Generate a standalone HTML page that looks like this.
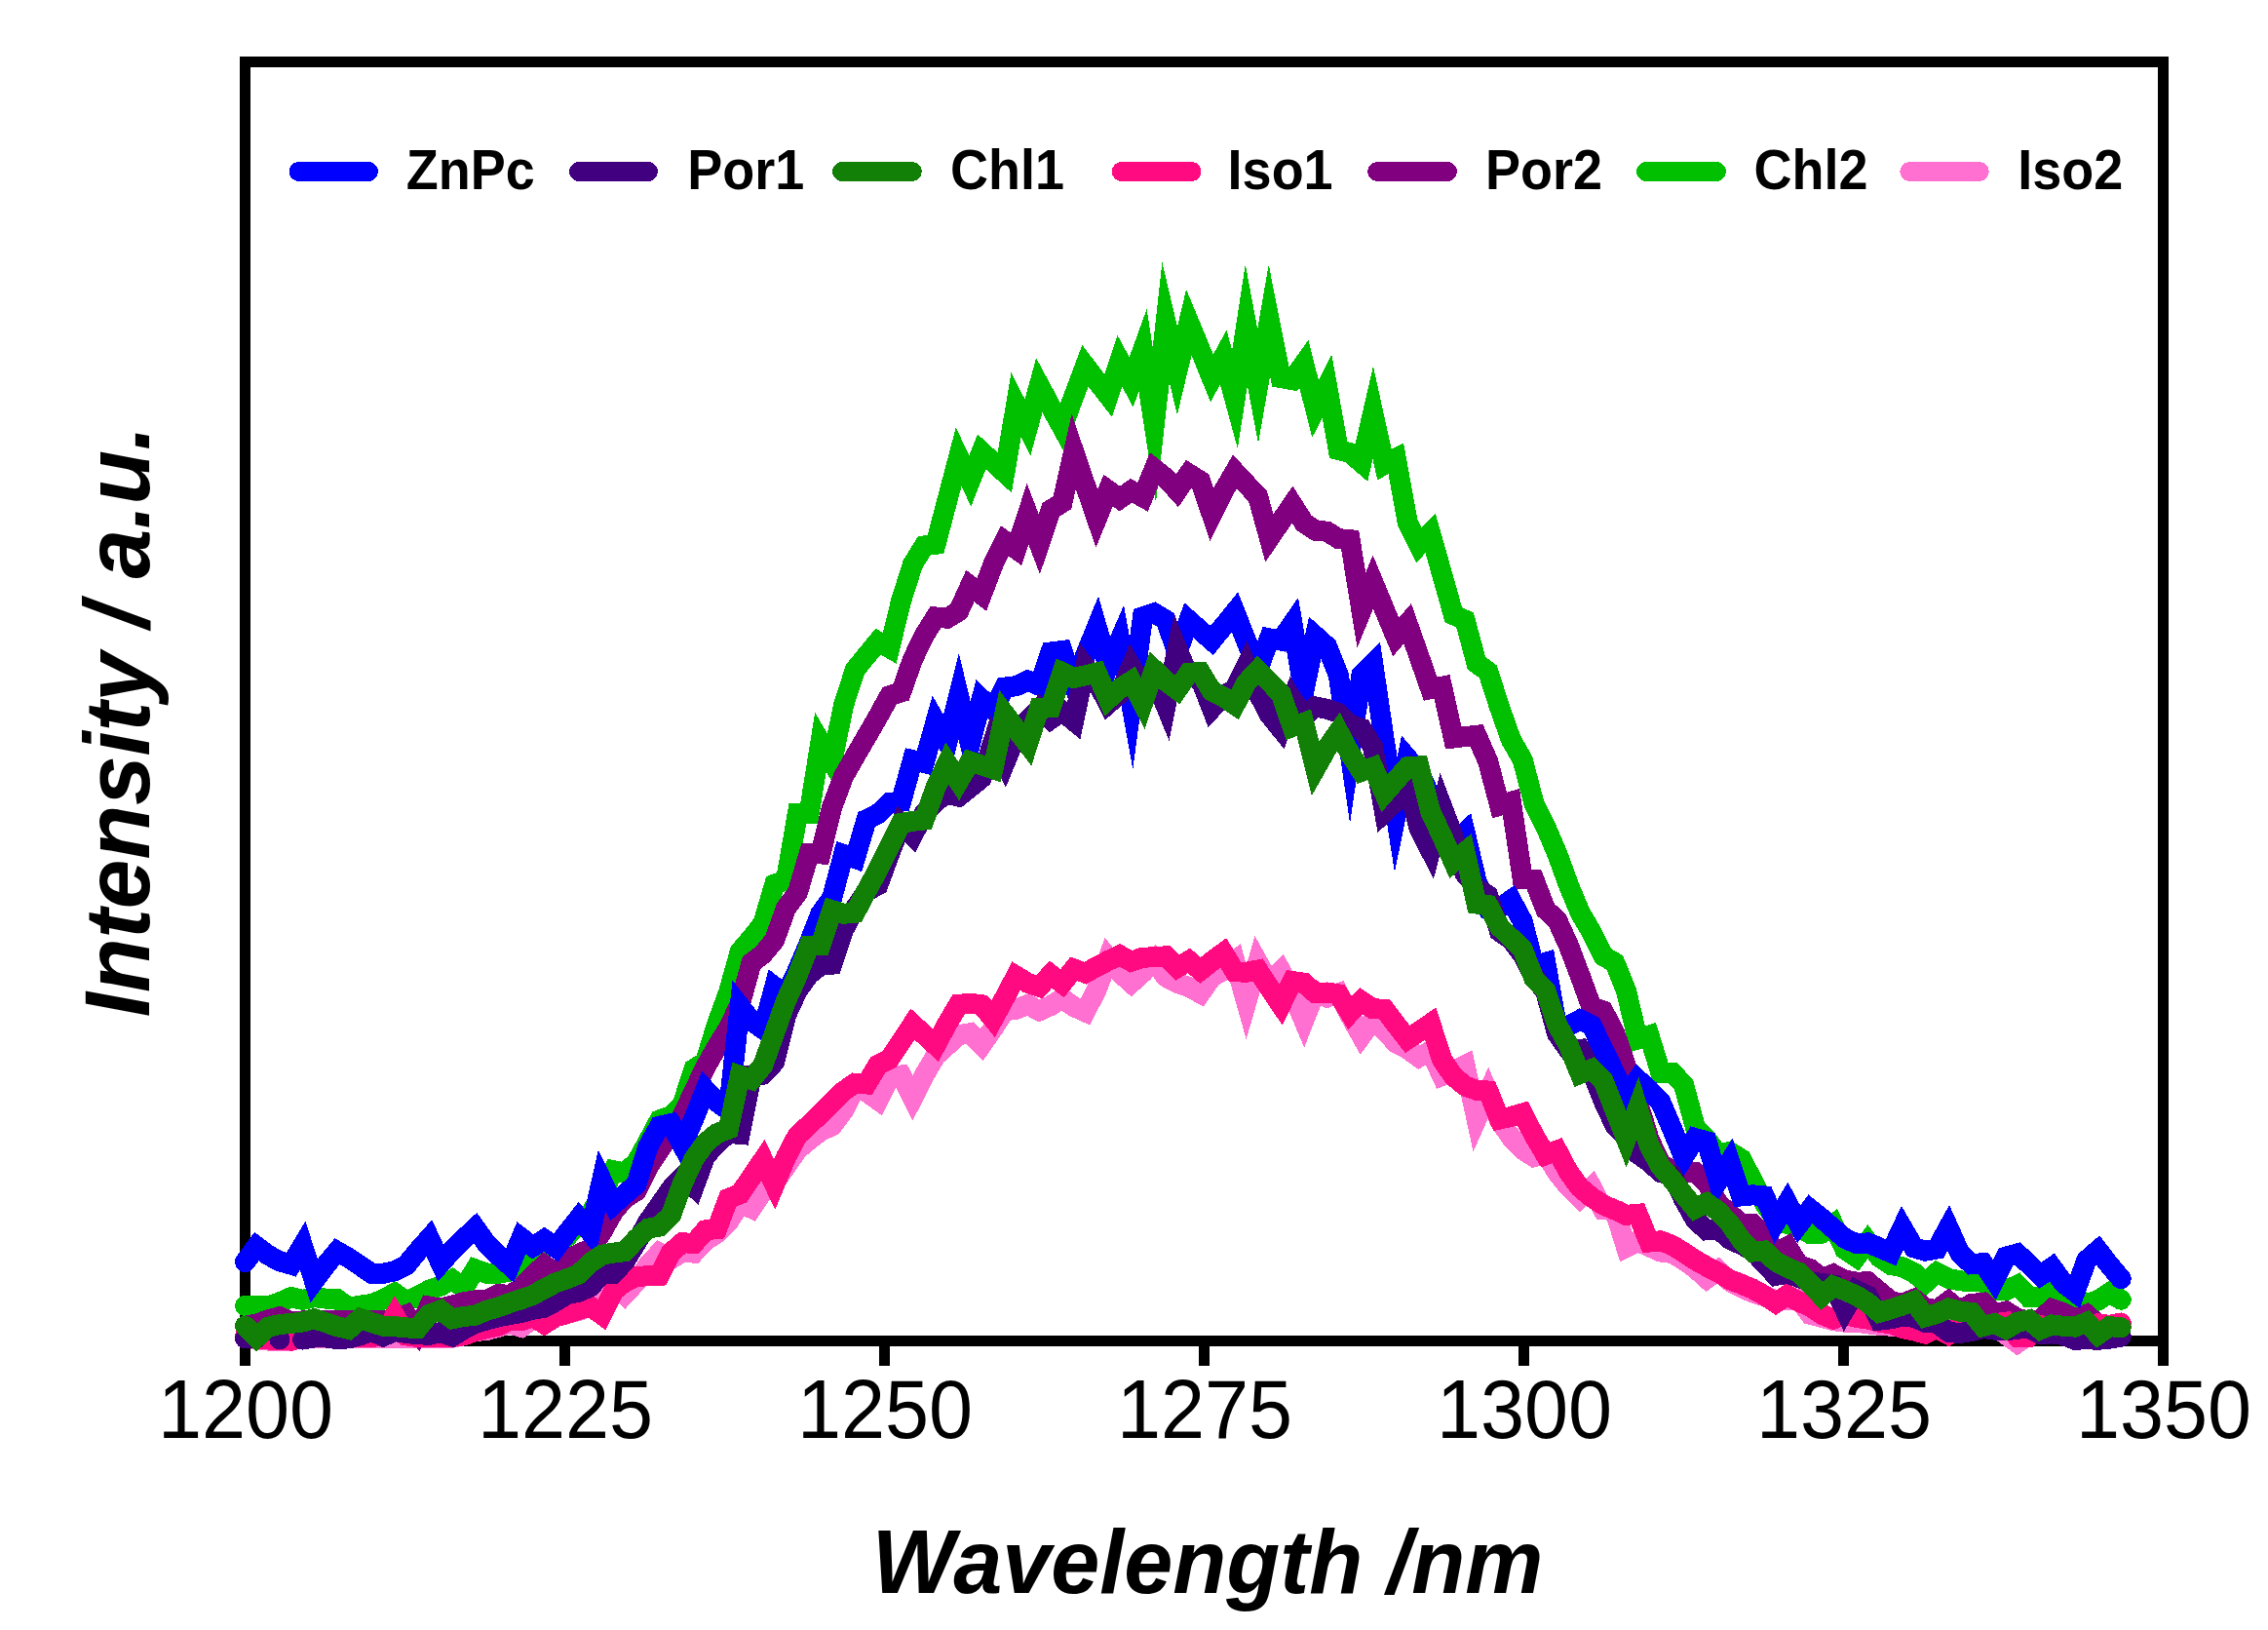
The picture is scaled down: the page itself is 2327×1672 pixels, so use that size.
<!DOCTYPE html>
<html lang="en"><head><meta charset="utf-8"><title>Emission spectra</title>
<style>html,body{margin:0;padding:0;background:#fff}svg{display:block}text{font-family:"Liberation Sans",sans-serif;fill:#000}.tick{font-size:81px}.leg{font-size:54px;font-weight:bold}.ax{font-size:91px;font-weight:bold;font-style:italic}.c{fill:none;stroke-width:21;stroke-linejoin:miter;stroke-miterlimit:10;stroke-linecap:round}</style></head><body>
<svg width="2327" height="1672" viewBox="0 0 2327 1672">
<rect width="2327" height="1672" fill="#fff"/>
<g shape-rendering="crispEdges">
<rect x="251.5" y="63" width="1968" height="1312" fill="none" stroke="#000" stroke-width="11"/>
<rect x="246.25" y="1375" width="10.5" height="26" fill="#000"/>
<rect x="574.25" y="1375" width="10.5" height="26" fill="#000"/>
<rect x="902.25" y="1375" width="10.5" height="26" fill="#000"/>
<rect x="1230.25" y="1375" width="10.5" height="26" fill="#000"/>
<rect x="1558.25" y="1375" width="10.5" height="26" fill="#000"/>
<rect x="1886.25" y="1375" width="10.5" height="26" fill="#000"/>
<rect x="2214.25" y="1375" width="10.5" height="26" fill="#000"/>
</g>
<g class="c" shape-rendering="crispEdges">
<path d="M251.5,1371.9L263.3,1374.0L275.1,1375.1L286.9,1375.1L298.7,1375.1L310.5,1372.3L322.3,1372.3L334.2,1372.3L346.0,1372.3L357.8,1372.3L369.6,1372.3L381.4,1372.3L393.2,1372.3L405.0,1372.3L416.8,1372.3L428.6,1372.3L440.4,1372.3L452.2,1372.3L464.0,1372.3L475.9,1369.8L487.7,1365.5L499.5,1364.5L511.3,1361.3L523.1,1358.1L534.9,1361.3L546.7,1352.8L558.5,1357.1L570.3,1350.7L582.1,1347.5L593.9,1344.4L605.7,1340.1L617.5,1331.7L629.4,1314.8L641.2,1327.5L653.0,1314.8L664.8,1297.8L676.6,1285.1L688.4,1291.5L700.2,1284.1L712.0,1285.1L723.8,1272.4L735.6,1265.2L747.4,1253.4L759.2,1234.3L771.1,1239.6L782.9,1221.6L794.7,1213.2L806.5,1196.2L818.3,1179.3L830.1,1169.4L841.9,1160.3L853.7,1155.0L865.5,1139.1L877.3,1115.8L889.1,1120.1L900.9,1128.5L912.7,1105.2L924.6,1103.1L936.4,1126.4L948.2,1103.1L960.0,1083.0L971.8,1072.4L983.6,1061.9L995.4,1059.7L1007.2,1071.8L1019.0,1054.9L1030.8,1036.9L1042.6,1035.2L1054.4,1030.5L1066.3,1036.9L1078.1,1031.6L1089.9,1024.2L1101.7,1032.6L1113.5,1037.9L1125.3,1014.7L1137.1,982.9L1148.9,997.7L1160.7,1008.3L1172.5,997.7L1184.3,985.4L1196.1,1002.0L1207.9,1008.3L1219.8,1012.5L1231.6,1018.9L1243.4,1002.0L1255.2,995.6L1267.0,986.1L1278.8,1028.0L1290.6,987.1L1302.4,1008.3L1314.2,996.2L1326.0,1018.9L1337.8,1046.8L1349.6,1016.8L1361.5,1023.1L1373.3,1018.9L1385.1,1041.5L1396.9,1062.5L1408.7,1046.4L1420.5,1057.0L1432.3,1069.7L1444.1,1076.0L1455.9,1084.5L1467.7,1078.1L1479.5,1103.5L1491.3,1098.9L1503.1,1092.9L1515.0,1147.8L1526.8,1121.1L1538.6,1149.7L1550.4,1166.6L1562.2,1179.3L1574.0,1186.7L1585.8,1183.5L1597.6,1202.6L1609.4,1217.4L1621.2,1229.0L1633.0,1217.8L1644.8,1240.7L1656.7,1241.7L1668.5,1279.4L1680.3,1273.5L1692.1,1278.8L1703.9,1284.0L1715.7,1285.5L1727.5,1292.5L1739.3,1301.0L1751.1,1311.6L1762.9,1303.1L1774.7,1314.3L1786.5,1320.7L1798.3,1326.0L1810.2,1329.6L1822.0,1333.8L1833.8,1333.8L1845.6,1332.7L1857.4,1348.3L1869.2,1351.4L1881.0,1354.6L1892.8,1356.2L1904.6,1356.2L1916.4,1357.8L1928.2,1359.4L1940.0,1360.2L1951.9,1360.2L1963.7,1360.2L1975.5,1360.2L1987.3,1360.2L1999.1,1360.2L2010.9,1360.2L2022.7,1360.2L2034.5,1360.2L2046.3,1360.2L2058.1,1368.9L2069.9,1377.6L2081.7,1368.9L2093.5,1360.2L2105.4,1360.2L2117.2,1360.2L2129.0,1360.2L2140.8,1360.2L2152.6,1360.2L2164.4,1360.2L2176.2,1360.2" stroke="#FF70D0"/>
<path d="M251.5,1339.5L263.3,1339.1L275.1,1340.1L286.9,1335.9L298.7,1330.6L310.5,1333.4L322.3,1330.6L334.2,1332.1L346.0,1332.7L357.8,1341.2L369.6,1339.1L381.4,1337.6L393.2,1332.7L405.0,1326.4L416.8,1334.8L428.6,1329.6L440.4,1323.2L452.2,1319.0L464.0,1312.6L475.9,1321.1L487.7,1302.0L499.5,1306.3L511.3,1306.3L523.1,1304.2L534.9,1293.6L546.7,1285.1L558.5,1278.8L570.3,1276.6L582.1,1268.2L593.9,1255.5L605.7,1244.9L617.5,1225.8L629.4,1200.7L641.2,1202.9L653.0,1192.3L664.8,1171.1L676.6,1148.9L688.4,1144.7L700.2,1133.0L712.0,1096.5L723.8,1089.1L735.6,1050.5L747.4,1018.3L759.2,976.2L771.1,962.2L782.9,947.3L794.7,907.1L806.5,902.9L818.3,834.8L830.1,834.8L841.9,761.3L853.7,781.4L865.5,723.5L877.3,687.0L889.1,672.5L900.9,658.1L912.7,664.8L924.6,616.3L936.4,579.0L948.2,559.9L960.0,558.3L971.8,513.5L983.6,468.7L995.4,493.3L1007.2,463.4L1019.0,474.2L1030.8,484.9L1042.6,415.1L1054.4,438.4L1066.3,395.2L1078.1,417.2L1089.9,438.6L1101.7,406.6L1113.5,375.3L1125.3,390.7L1137.1,405.8L1148.9,370.2L1160.7,392.0L1172.5,359.2L1184.3,436.2L1196.1,330.4L1207.9,380.4L1219.8,330.6L1231.6,359.0L1243.4,388.0L1255.2,366.4L1267.0,409.8L1278.8,333.4L1290.6,396.0L1302.4,328.5L1314.2,387.6L1326.0,389.7L1337.8,373.2L1349.6,419.3L1361.5,396.0L1373.3,461.6L1385.1,464.6L1396.9,474.7L1408.7,423.3L1420.5,476.6L1432.3,470.3L1444.1,535.4L1455.9,559.2L1467.7,547.1L1479.5,588.8L1491.3,630.7L1503.1,636.0L1515.0,680.4L1526.8,688.9L1538.6,725.7L1550.4,758.9L1562.2,779.4L1574.0,824.4L1585.8,847.8L1597.6,875.4L1609.4,907.9L1621.2,936.2L1633.0,956.2L1644.8,980.5L1656.7,987.3L1668.5,1016.3L1680.3,1065.9L1692.1,1062.2L1703.9,1100.6L1715.7,1100.3L1727.5,1112.6L1739.3,1156.0L1751.1,1168.7L1762.9,1184.6L1774.7,1181.4L1786.5,1188.8L1798.3,1211.0L1810.2,1234.3L1822.0,1251.2L1833.8,1255.5L1845.6,1258.7L1857.4,1265.7L1869.2,1265.1L1881.0,1256.2L1892.8,1281.6L1904.6,1289.5L1916.4,1273.7L1928.2,1289.5L1940.0,1297.5L1951.9,1299.8L1963.7,1305.4L1975.5,1315.9L1987.3,1305.4L1999.1,1311.4L2010.9,1313.7L2022.7,1314.9L2034.5,1314.9L2046.3,1323.7L2058.1,1323.7L2069.9,1318.1L2081.7,1330.8L2093.5,1330.8L2105.4,1322.1L2117.2,1326.8L2129.0,1331.6L2140.8,1337.1L2152.6,1334.0L2164.4,1326.0L2176.2,1333.2" stroke="#00C000"/>
<path d="M251.5,1360.2L263.3,1358.1L275.1,1353.9L286.9,1350.7L298.7,1356.0L310.5,1354.9L322.3,1354.9L334.2,1354.9L346.0,1354.9L357.8,1354.9L369.6,1354.9L381.4,1354.9L393.2,1354.9L405.0,1352.8L416.8,1348.6L428.6,1365.5L440.4,1340.1L452.2,1342.2L464.0,1339.1L475.9,1335.9L487.7,1333.8L499.5,1333.8L511.3,1327.4L523.1,1328.5L534.9,1321.1L546.7,1308.4L558.5,1297.8L570.3,1306.3L582.1,1292.5L593.9,1286.2L605.7,1280.9L617.5,1263.9L629.4,1242.8L641.2,1229.0L653.0,1221.6L664.8,1197.6L676.6,1179.6L688.4,1162.1L700.2,1144.7L712.0,1119.3L723.8,1094.9L735.6,1073.8L747.4,1054.7L759.2,1030.2L771.1,987.6L782.9,978.6L794.7,964.3L806.5,931.4L818.3,915.9L830.1,875.9L841.9,876.0L853.7,827.8L865.5,796.5L877.3,775.9L889.1,755.6L900.9,735.1L912.7,713.7L924.6,710.0L936.4,676.5L948.2,651.9L960.0,633.0L971.8,634.3L983.6,627.0L995.4,601.0L1007.2,610.0L1019.0,579.0L1030.8,554.8L1042.6,563.2L1054.4,527.2L1066.3,558.1L1078.1,523.0L1089.9,515.6L1101.7,463.1L1113.5,497.6L1125.3,531.9L1137.1,503.1L1148.9,511.6L1160.7,503.3L1172.5,509.9L1184.3,480.9L1196.1,490.2L1207.9,503.3L1219.8,486.0L1231.6,493.4L1243.4,527.9L1255.2,504.0L1267.0,483.9L1278.8,496.6L1290.6,509.3L1302.4,552.0L1314.2,534.7L1326.0,517.5L1337.8,536.1L1349.6,544.2L1361.5,545.2L1373.3,552.6L1385.1,553.7L1396.9,626.0L1408.7,597.0L1420.5,625.4L1432.3,653.5L1444.1,639.6L1455.9,673.0L1467.7,706.7L1479.5,704.3L1491.3,757.0L1503.1,755.6L1515.0,754.3L1526.8,781.3L1538.6,826.2L1550.4,822.5L1562.2,901.6L1574.0,902.4L1585.8,933.0L1597.6,943.7L1609.4,969.8L1621.2,1000.8L1633.0,1033.3L1644.8,1036.8L1656.7,1059.5L1668.5,1093.7L1680.3,1130.6L1692.1,1168.7L1703.9,1193.7L1715.7,1200.4L1727.5,1202.6L1739.3,1202.6L1751.1,1213.1L1762.9,1234.3L1774.7,1244.9L1786.5,1255.5L1798.3,1255.5L1810.2,1268.2L1822.0,1285.1L1833.8,1278.8L1845.6,1297.8L1857.4,1301.6L1869.2,1311.7L1881.0,1307.0L1892.8,1313.0L1904.6,1315.1L1916.4,1314.9L1928.2,1324.8L1940.0,1334.8L1951.9,1337.1L1963.7,1332.4L1975.5,1341.9L1987.3,1343.5L1999.1,1334.8L2010.9,1344.3L2022.7,1337.6L2034.5,1336.2L2046.3,1347.5L2058.1,1345.1L2069.9,1352.2L2081.7,1355.4L2093.5,1353.8L2105.4,1342.7L2117.2,1346.7L2129.0,1353.0L2140.8,1348.3L2152.6,1358.6L2164.4,1361.0L2176.2,1361.0" stroke="#800080"/>
<path d="M251.5,1370.8L263.3,1372.9L275.1,1374.0L286.9,1374.0L298.7,1375.1L310.5,1371.5L322.3,1371.5L334.2,1371.5L346.0,1371.5L357.8,1371.5L369.6,1371.5L381.4,1371.5L393.2,1369.8L405.0,1349.7L416.8,1369.8L428.6,1371.5L440.4,1371.5L452.2,1371.5L464.0,1371.5L475.9,1369.8L487.7,1365.5L499.5,1362.4L511.3,1360.2L523.1,1353.9L534.9,1354.9L546.7,1350.7L558.5,1358.1L570.3,1350.7L582.1,1347.5L593.9,1343.3L605.7,1340.1L617.5,1348.6L629.4,1324.3L641.2,1314.8L653.0,1309.7L664.8,1308.6L676.6,1308.2L688.4,1284.9L700.2,1274.6L712.0,1275.6L723.8,1261.9L735.6,1260.6L747.4,1229.3L759.2,1224.8L771.1,1207.2L782.9,1189.9L794.7,1215.1L806.5,1186.9L818.3,1164.7L830.1,1153.9L841.9,1142.5L853.7,1130.8L865.5,1119.2L877.3,1111.2L889.1,1112.0L900.9,1092.1L912.7,1086.2L924.6,1068.4L936.4,1050.6L948.2,1061.4L960.0,1072.2L971.8,1050.2L983.6,1030.3L995.4,1029.3L1007.2,1030.7L1019.0,1045.3L1030.8,1023.5L1042.6,1001.1L1054.4,1008.3L1066.3,1012.1L1078.1,999.6L1089.9,1008.7L1101.7,993.9L1113.5,998.1L1125.3,991.6L1137.1,985.4L1148.9,979.9L1160.7,986.3L1172.5,982.1L1184.3,981.9L1196.1,980.8L1207.9,992.6L1219.8,985.4L1231.6,995.4L1243.4,986.1L1255.2,977.4L1267.0,996.7L1278.8,997.3L1290.6,995.0L1302.4,1013.2L1314.2,1030.7L1326.0,1006.6L1337.8,1008.3L1349.6,1018.7L1361.5,1018.0L1373.3,1019.9L1385.1,1039.0L1396.9,1026.9L1408.7,1034.8L1420.5,1035.2L1432.3,1050.8L1444.1,1065.9L1455.9,1058.0L1467.7,1050.0L1479.5,1086.7L1491.3,1104.2L1503.1,1113.9L1515.0,1118.3L1526.8,1119.0L1538.6,1148.0L1550.4,1145.4L1562.2,1142.0L1574.0,1164.7L1585.8,1184.6L1597.6,1180.1L1609.4,1202.4L1621.2,1218.4L1633.0,1228.2L1644.8,1235.8L1656.7,1240.9L1668.5,1246.4L1680.3,1245.3L1692.1,1274.1L1703.9,1272.8L1715.7,1277.3L1727.5,1284.7L1739.3,1292.5L1751.1,1299.1L1762.9,1305.0L1774.7,1312.6L1786.5,1317.1L1798.3,1322.1L1810.2,1328.7L1822.0,1336.5L1833.8,1328.5L1845.6,1335.3L1857.4,1340.3L1869.2,1348.3L1881.0,1353.0L1892.8,1348.3L1904.6,1351.4L1916.4,1353.0L1928.2,1356.2L1940.0,1357.8L1951.9,1362.5L1963.7,1364.9L1975.5,1368.1L1987.3,1362.5L1999.1,1368.9L2010.9,1360.2L2022.7,1362.5L2034.5,1362.5L2046.3,1357.8L2058.1,1356.2L2069.9,1371.3L2081.7,1371.3L2093.5,1359.4L2105.4,1362.5L2117.2,1362.5L2129.0,1362.5L2140.8,1362.5L2152.6,1357.8L2164.4,1359.4L2176.2,1357.0" stroke="#FF0A80"/>
<path d="M251.5,1294.6L263.3,1278.5L275.1,1287.4L286.9,1293.8L298.7,1297.2L310.5,1277.7L322.3,1313.7L334.2,1297.8L346.0,1283.6L357.8,1290.4L369.6,1298.2L381.4,1306.3L393.2,1306.3L405.0,1303.7L416.8,1297.8L428.6,1283.4L440.4,1270.1L452.2,1295.7L464.0,1282.6L475.9,1270.7L487.7,1259.7L499.5,1276.2L511.3,1287.6L523.1,1298.2L534.9,1269.9L546.7,1278.8L558.5,1271.3L570.3,1279.8L582.1,1264.4L593.9,1249.6L605.7,1263.9L617.5,1211.0L629.4,1235.4L641.2,1224.8L653.0,1214.9L664.8,1176.4L676.6,1155.2L688.4,1152.6L700.2,1174.8L712.0,1147.1L723.8,1117.7L735.6,1130.4L747.4,1138.8L759.2,1032.2L771.1,1047.3L782.9,1055.6L794.7,1012.1L806.5,1021.1L818.3,995.2L830.1,967.5L841.9,937.3L853.7,921.0L865.5,876.5L877.3,880.6L889.1,840.5L900.9,834.9L912.7,823.5L924.6,822.2L936.4,779.7L948.2,782.5L960.0,740.5L971.8,761.3L983.6,714.0L995.4,763.2L1007.2,717.0L1019.0,728.1L1030.8,705.1L1042.6,703.7L1054.4,698.1L1066.3,703.2L1078.1,668.9L1089.9,667.5L1101.7,701.6L1113.5,672.5L1125.3,643.5L1137.1,684.1L1148.9,656.8L1160.7,721.7L1172.5,632.7L1184.3,628.9L1196.1,636.0L1207.9,669.4L1219.8,636.3L1231.6,646.7L1243.4,657.0L1255.2,642.4L1267.0,627.9L1278.8,657.6L1290.6,687.5L1302.4,654.9L1314.2,657.1L1326.0,640.0L1337.8,709.0L1349.6,652.4L1361.5,663.0L1373.3,692.4L1385.1,772.5L1396.9,692.7L1408.7,680.8L1420.5,760.6L1432.3,835.7L1444.1,777.8L1455.9,791.6L1467.7,817.0L1479.5,840.8L1491.3,864.6L1503.1,853.8L1515.0,904.0L1526.8,931.3L1538.6,931.3L1550.4,923.2L1562.2,945.2L1574.0,990.8L1585.8,987.3L1597.6,1054.0L1609.4,1052.4L1621.2,1046.0L1633.0,1051.6L1644.8,1076.2L1656.7,1100.5L1668.5,1124.6L1680.3,1107.3L1692.1,1117.9L1703.9,1130.6L1715.7,1158.1L1727.5,1186.7L1739.3,1167.6L1751.1,1170.8L1762.9,1211.0L1774.7,1192.0L1786.5,1226.9L1798.3,1225.8L1810.2,1226.9L1822.0,1253.4L1833.8,1233.9L1845.6,1255.9L1857.4,1240.3L1869.2,1249.8L1881.0,1260.2L1892.8,1270.2L1904.6,1275.6L1916.4,1274.9L1928.2,1279.7L1940.0,1284.8L1951.9,1259.5L1963.7,1279.8L1975.5,1283.2L1987.3,1281.0L1999.1,1259.5L2010.9,1285.6L2022.7,1296.7L2034.5,1295.6L2046.3,1313.0L2058.1,1289.2L2069.9,1286.0L2081.7,1296.7L2093.5,1308.3L2105.4,1300.0L2117.2,1316.2L2129.0,1325.2L2140.8,1292.7L2152.6,1282.5L2164.4,1297.8L2176.2,1311.7" stroke="#0000FF"/>
<path d="M251.5,1372.9L263.3,1372.9M286.9,1374.0l0.01,0M310.5,1374.0L322.3,1371.9L334.2,1371.9L346.0,1373.6L357.8,1372.9L369.6,1369.8L381.4,1365.5L393.2,1370.8L405.0,1365.5L416.8,1367.6L428.6,1368.7L440.4,1369.3L452.2,1366.6L464.0,1370.8L475.9,1363.4L487.7,1357.5L499.5,1353.9L511.3,1350.7L523.1,1348.6L534.9,1346.5L546.7,1343.3L558.5,1341.2L570.3,1334.8L582.1,1327.4L593.9,1325.3L605.7,1320.0L617.5,1306.3L629.4,1306.3L641.2,1293.6L653.0,1274.6L664.8,1253.4L676.6,1236.5L688.4,1219.5L700.2,1207.0L712.0,1217.6L723.8,1185.7L735.6,1173.0L747.4,1162.4L759.2,1163.4L771.1,1103.1L782.9,1102.1L794.7,1089.4L806.5,1041.3L818.3,1015.9L830.1,999.7L841.9,990.2L853.7,989.2L865.5,954.0L877.3,931.7L889.1,914.3L900.9,907.9L912.7,875.9L924.6,845.2L936.4,857.1L948.2,834.1L960.0,822.2L971.8,814.3L983.6,817.1L995.4,807.6L1007.2,798.1L1019.0,760.8L1030.8,783.0L1042.6,754.4L1054.4,738.9L1066.3,726.7L1078.1,737.8L1089.9,729.8L1101.7,739.4L1113.5,683.8L1125.3,699.0L1137.1,721.9L1148.9,711.6L1160.7,683.8L1172.5,704.3L1184.3,694.9L1196.1,723.7L1207.9,665.7L1219.8,694.3L1231.6,696.2L1243.4,726.7L1255.2,713.7L1267.0,707.1L1278.8,682.7L1290.6,710.6L1302.4,733.0L1314.2,747.6L1326.0,717.0L1337.8,735.2L1349.6,724.9L1361.5,727.3L1373.3,731.3L1385.1,743.2L1396.9,747.1L1408.7,766.2L1420.5,833.2L1432.3,822.1L1444.1,801.1L1455.9,849.7L1467.7,872.5L1479.5,827.3L1491.3,858.3L1503.1,896.3L1515.0,910.6L1526.8,918.6L1538.6,955.6L1550.4,963.5L1562.2,979.4L1574.0,1001.6L1585.8,1017.5L1597.6,1060.3L1609.4,1077.0L1621.2,1076.2L1633.0,1098.4L1644.8,1128.5L1656.7,1153.9L1668.5,1166.6L1680.3,1183.5L1692.1,1192.0L1703.9,1202.6L1715.7,1205.7L1727.5,1230.1L1739.3,1251.2L1751.1,1261.8L1762.9,1260.8L1774.7,1271.3L1786.5,1276.6L1798.3,1283.0L1810.2,1295.7L1822.0,1308.4L1833.8,1306.3L1845.6,1310.5L1857.4,1314.8L1869.2,1316.5L1881.0,1318.1L1892.8,1343.5L1904.6,1323.5L1916.4,1329.2L1928.2,1354.1L1940.0,1352.9L1951.9,1350.0L1963.7,1351.3L1975.5,1356.5L1987.3,1357.3L1999.1,1366.3L2010.9,1367.6L2022.7,1365.6L2034.5,1362.5L2046.3,1364.1L2058.1,1364.9L2069.9,1363.2L2081.7,1362.4L2093.5,1368.7L2105.4,1367.9L2117.2,1369.5L2129.0,1374.3L2140.8,1373.7L2152.6,1374.3L2164.4,1373.2L2176.2,1371.1" stroke="#400080"/>
<path d="M251.5,1360.2L263.3,1371.9L275.1,1361.3L286.9,1358.5L298.7,1357.5L310.5,1356.0L322.3,1352.8L334.2,1356.6L346.0,1360.7L357.8,1363.4L369.6,1352.4L381.4,1356.6L393.2,1360.2L405.0,1360.7L416.8,1361.9L428.6,1362.4L440.4,1348.2L452.2,1343.9L464.0,1352.8L475.9,1350.5L487.7,1349.2L499.5,1344.2L511.3,1340.8L523.1,1336.5L534.9,1332.7L546.7,1328.5L558.5,1321.9L570.3,1315.8L582.1,1311.6L593.9,1306.9L605.7,1295.3L617.5,1287.2L629.4,1285.1L641.2,1283.7L653.0,1270.7L664.8,1260.2L676.6,1258.0L688.4,1246.6L700.2,1214.2L712.0,1188.8L723.8,1172.3L735.6,1162.6L747.4,1158.1L759.2,1103.3L771.1,1107.4L782.9,1092.5L794.7,1059.5L806.5,1026.5L818.3,1000.3L830.1,970.2L841.9,969.8L853.7,933.7L865.5,937.3L877.3,936.2L889.1,913.7L900.9,892.2L912.7,867.9L924.6,844.4L936.4,842.4L948.2,841.0L960.0,807.9L971.8,783.0L983.6,801.3L995.4,781.0L1007.2,784.8L1019.0,788.7L1030.8,732.4L1042.6,747.9L1054.4,763.3L1066.3,726.3L1078.1,725.9L1089.9,689.8L1101.7,695.4L1113.5,692.9L1125.3,690.0L1137.1,717.0L1148.9,706.3L1160.7,698.7L1172.5,721.4L1184.3,687.1L1196.1,698.6L1207.9,707.5L1219.8,690.3L1231.6,689.5L1243.4,709.0L1255.2,714.9L1267.0,723.0L1278.8,700.3L1290.6,687.6L1302.4,699.5L1314.2,711.4L1326.0,745.6L1337.8,741.3L1349.6,788.4L1361.5,767.3L1373.3,750.6L1385.1,772.9L1396.9,791.3L1408.7,787.0L1420.5,813.8L1432.3,800.3L1444.1,786.8L1455.9,785.9L1467.7,832.5L1479.5,857.5L1491.3,884.0L1503.1,874.1L1515.0,927.0L1526.8,928.6L1538.6,950.8L1550.4,962.2L1562.2,973.8L1574.0,1004.0L1585.8,1015.9L1597.6,1050.8L1609.4,1072.2L1621.2,1101.4L1633.0,1096.7L1644.8,1108.4L1656.7,1138.2L1668.5,1168.3L1680.3,1137.0L1692.1,1175.1L1703.9,1196.9L1715.7,1210.0L1727.5,1225.4L1739.3,1239.6L1751.1,1233.9L1762.9,1242.6L1774.7,1254.8L1786.5,1271.8L1798.3,1284.0L1810.2,1283.0L1822.0,1294.0L1833.8,1300.3L1845.6,1305.2L1857.4,1316.8L1869.2,1329.5L1881.0,1319.2L1892.8,1323.8L1904.6,1328.9L1916.4,1336.3L1928.2,1346.3L1940.0,1342.9L1951.9,1339.0L1963.7,1334.8L1975.5,1350.8L1987.3,1347.5L1999.1,1342.2L2010.9,1345.1L2022.7,1346.3L2034.5,1360.6L2046.3,1357.5L2058.1,1363.3L2069.9,1356.3L2081.7,1353.8L2093.5,1363.8L2105.4,1359.0L2117.2,1360.3L2129.0,1361.1L2140.8,1356.3L2152.6,1368.9L2164.4,1360.6L2176.2,1361.7" stroke="#128006"/>
</g>
<g shape-rendering="crispEdges">
<line x1="306.5" y1="176" x2="378.0" y2="176" stroke="#0000FF" stroke-width="20" stroke-linecap="round"/>
<text class="leg" transform="translate(416.8,194.3) scale(1,1.055)">ZnPc</text>
<line x1="594.0" y1="176" x2="665.0" y2="176" stroke="#400080" stroke-width="20" stroke-linecap="round"/>
<text class="leg" transform="translate(705.3,194.3) scale(1,1.055)">Por1</text>
<line x1="864.0" y1="176" x2="935.8" y2="176" stroke="#128006" stroke-width="20" stroke-linecap="round"/>
<text class="leg" transform="translate(975.0,194.3) scale(1,1.055)">Chl1</text>
<line x1="1150.7" y1="176" x2="1222.6" y2="176" stroke="#FF0A80" stroke-width="20" stroke-linecap="round"/>
<text class="leg" transform="translate(1259.6,194.3) scale(1,1.055)">Iso1</text>
<line x1="1413.2" y1="176" x2="1485.0" y2="176" stroke="#800080" stroke-width="20" stroke-linecap="round"/>
<text class="leg" transform="translate(1524.0,194.3) scale(1,1.055)">Por2</text>
<line x1="1689.0" y1="176" x2="1761.0" y2="176" stroke="#00C000" stroke-width="20" stroke-linecap="round"/>
<text class="leg" transform="translate(1799.6,194.3) scale(1,1.055)">Chl2</text>
<line x1="1959.4" y1="176" x2="2030.7" y2="176" stroke="#FF70D0" stroke-width="20" stroke-linecap="round"/>
<text class="leg" transform="translate(2070.2,194.3) scale(1,1.055)">Iso2</text>
</g>
<g class="tick" text-anchor="middle">
<text transform="translate(252.0,1475.2) scale(1,1.055)">1200</text>
<text transform="translate(580.0,1475.2) scale(1,1.055)">1225</text>
<text transform="translate(908.0,1475.2) scale(1,1.055)">1250</text>
<text transform="translate(1236.0,1475.2) scale(1,1.055)">1275</text>
<text transform="translate(1564.0,1475.2) scale(1,1.055)">1300</text>
<text transform="translate(1892.0,1475.2) scale(1,1.055)">1325</text>
<text transform="translate(2220.0,1475.2) scale(1,1.055)">1350</text>
</g>
<text class="ax" style="font-size:90px" text-anchor="middle" transform="translate(1239,1634) scale(1,1.03)">Wavelength /nm</text>
<text class="ax" text-anchor="middle" transform="translate(152.5,740) rotate(-90) scale(1,1.03)">Intensity / a.u.</text>
</svg></body></html>
